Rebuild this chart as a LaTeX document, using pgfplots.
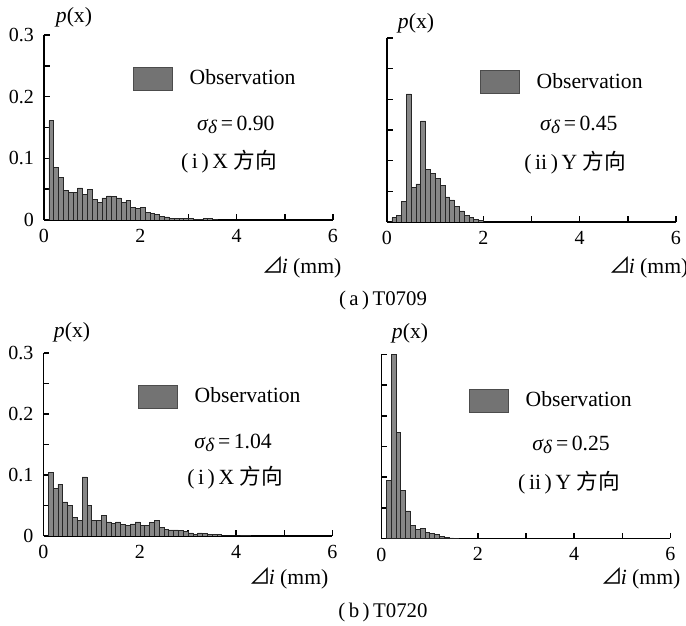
\documentclass[border=0pt]{standalone}
\usepackage{fontspec}
\setmainfont{Liberation Serif}
\newfontfamily\cjk{Noto Sans CJK SC}
\usepackage{pgfplots}
\pgfplotsset{compat=1.18}

\definecolor{barfill}{gray}{0.53}
\definecolor{legfill}{gray}{0.45}
\newcommand\lab{\fontsize{13}{15}\selectfont}
\newcommand\sig{\textit{σ}\kern-0.3pt\raisebox{-0.25ex}{\fontsize{11.5}{13}\selectfont\textit{δ}}}
\newcommand\dlt{{\cjk ⊿}\kern-1.5pt\textit{i} (mm)}

\pgfplotsset{
  histo/.style={
    scale only axis, width=173.4pt, anchor=origin,
    xmin=0, xmax=6, ymin=0, ymax=0.3,
    axis lines=left, axis line style={-, line width=1pt},
    tick align=inside,
    major tick length=3.5pt, minor tick length=3.5pt,
    every tick/.style={black, line width=0.9pt},
    xtick={0,2,4,6}, minor xtick={1,3,5}, xticklabels={0,2,4,6},
    ytick={0,0.1,0.2,0.3}, minor ytick={0.05,0.15,0.25},
    yticklabels={0,0.1,0.2,0.3},
    tick label style={font=\fontsize{12}{14}\selectfont},
    xticklabel style={yshift=-2pt},
    yticklabel style={xshift=-2.5pt},
    legend style={draw=none, fill=none, anchor=west, inner sep=0pt,
      font=\lab, column sep=10pt, nodes={inner sep=0pt}},
  },
  bars/.style={ybar interval, fill=barfill, draw=black!85, line width=0.35pt,
    legend image code/.code={
      \draw[fill=legfill, draw=black!70, line width=0.4pt]
        (0pt,-6.9pt) rectangle (23.4pt,6.9pt);}},
}

\begin{document}
\begin{tikzpicture}[x=0.6pt,y=0.6pt]
\useasboundingbox (0,0) rectangle (686,626);

% (a) T0709, X
\begin{axis}[histo, at={(26.4pt,243.6pt)}, height=111pt,
  legend style={at={(0.308,0.765)}}]
\addplot[bars] coordinates {
  (0.1,0.161)(0.2,0.085)(0.3,0.069)(0.4,0.048)(0.5,0.045)(0.6,0.045)
  (0.7,0.052)(0.8,0.042)(0.9,0.049)(1.0,0.034)(1.1,0.029)(1.2,0.036)
  (1.3,0.039)(1.4,0.038)(1.5,0.036)(1.6,0.028)(1.7,0.032)(1.8,0.021)
  (1.9,0.019)(2.0,0.020)(2.1,0.012)(2.2,0.011)(2.3,0.009)(2.4,0.006)
  (2.5,0.005)(2.6,0.003)(2.7,0.002)(2.8,0.003)(2.9,0.002)(3.0,0.002)
  (3.1,0.001)(3.2,0.001)(3.3,0.002)(3.4,0.002)(3.5,0.001)(3.6,0)};
\addlegendentry{Observation}
\node[font=\lab] at (rel axis cs:0.664,0.514) {\sig\,=\,0.90};
\node[font=\lab] at (rel axis cs:0.640,0.314) {(\,i\,)\,X {\cjk 方向}};
\end{axis}

% (a) T0709, Y
\begin{axis}[histo, at={(232.2pt,242.4pt)}, height=110.4pt,
  yticklabels={}, legend style={at={(0.322,0.761)}}]
\addplot[bars] coordinates {
  (0.1,0.007)(0.2,0.011)(0.3,0.034)(0.4,0.209)(0.5,0.056)(0.6,0.062)
  (0.7,0.165)(0.8,0.086)(0.9,0.079)(1.0,0.071)(1.1,0.060)(1.2,0.041)
  (1.3,0.036)(1.4,0.026)(1.5,0.018)(1.6,0.011)(1.7,0.008)(1.8,0.004)
  (1.9,0.002)(2.0,0)};
\addlegendentry{Observation}
\node[font=\lab] at (rel axis cs:0.664,0.527) {\sig\,=\,0.45};
\node[font=\lab] at (rel axis cs:0.651,0.320) {(\,ii\,)\,Y {\cjk 方向}};
\end{axis}

% (b) T0720, X
\begin{axis}[histo, at={(26.1pt,54pt)}, height=109.8pt,
  legend style={at={(0.327,0.762)}}]
\addplot[bars] coordinates {
  (0.1,0.104)(0.2,0.078)(0.3,0.085)(0.4,0.056)(0.5,0.050)(0.6,0.031)
  (0.7,0.025)(0.8,0.097)(0.9,0.050)(1.0,0.025)(1.1,0.025)(1.2,0.034)
  (1.3,0.023)(1.4,0.021)(1.5,0.023)(1.6,0.019)(1.7,0.018)(1.8,0.020)
  (1.9,0.023)(2.0,0.018)(2.1,0.018)(2.2,0.022)(2.3,0.025)(2.4,0.014)
  (2.5,0.011)(2.6,0.010)(2.7,0.010)(2.8,0.009)(2.9,0.008)(3.0,0.005)
  (3.1,0.003)(3.2,0.005)(3.3,0.004)(3.4,0.002)(3.5,0.002)(3.6,0.002)
  (3.7,0)(3.8,0)(3.9,0)(4.0,0)(4.1,0.001)(4.2,0.001)(4.3,0)};
\addlegendentry{Observation}
\node[font=\lab] at (rel axis cs:0.656,0.508) {\sig\,=\,1.04};
\node[font=\lab] at (rel axis cs:0.663,0.317) {(\,i\,)\,X {\cjk 方向}};
\end{axis}

% (b) T0720, Y
\begin{axis}[histo, at={(228.9pt,52.5pt)}, height=110.4pt,
  yticklabels={}, legend style={at={(0.303,0.750)}}]
\addplot[bars] coordinates {
  (0.1,0.095)(0.2,0.300)(0.3,0.173)(0.4,0.079)(0.5,0.045)(0.6,0.022)
  (0.7,0.015)(0.8,0.017)(0.9,0.010)(1.0,0.008)(1.1,0.007)(1.2,0.004)
  (1.3,0.002)(1.4,0.001)(1.5,0.0005)(1.6,0)};
\addlegendentry{Observation}
\node[font=\lab] at (rel axis cs:0.656,0.508) {\sig\,=\,0.25};
\node[font=\lab] at (rel axis cs:0.649,0.302) {(\,ii\,)\,Y {\cjk 方向}};
\end{axis}

% axis titles and captions
\node[font=\lab] at (74,609) {\textit{p}(x)};
\node[font=\lab] at (416,603) {\textit{p}(x)};
\node[font=\lab] at (72,294) {\textit{p}(x)};
\node[font=\lab] at (410,293) {\textit{p}(x)};
\node[font=\lab] at (302,359) {\dlt};
\node[font=\lab] at (649,359) {\dlt};
\node[font=\lab] at (289,48) {\dlt};
\node[font=\lab] at (641,48) {\dlt};
\node[font=\fontsize{12.5}{14}\selectfont] at (383,326) {(\,a\,)\,T0709};
\node[font=\fontsize{12.5}{14}\selectfont] at (383,14) {(\,b\,)\,T0720};
\end{tikzpicture}
\end{document}
